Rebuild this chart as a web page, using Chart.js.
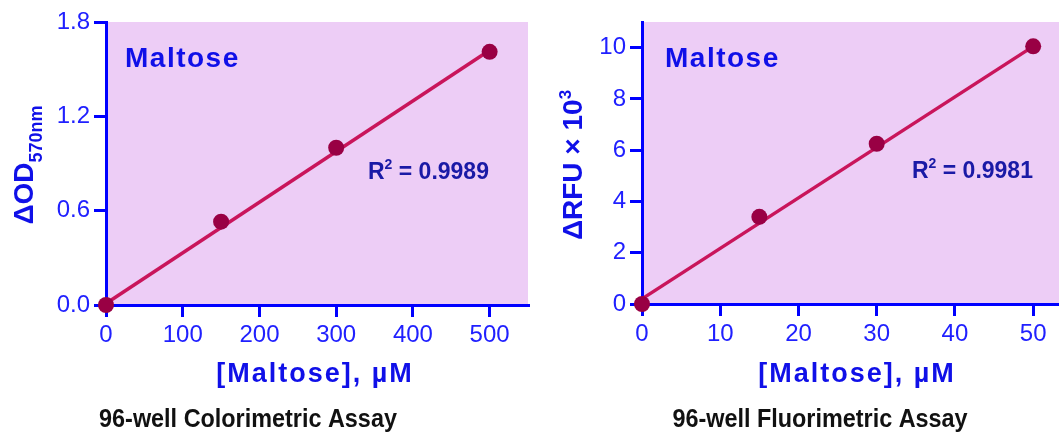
<!DOCTYPE html>
<html>
<head>
<meta charset="utf-8">
<script src="https://cdn.jsdelivr.net/npm/chart.js@4"></script>
<style>
  html, body { margin: 0; padding: 0; background: #fff; }
  #wrap { position: relative; width: 1059px; height: 432px; overflow: hidden; }
  canvas { position: absolute; top: 0; }
  #left { left: 0; }
  #right { left: 530px; }
</style>
</head>
<body>
<div id="wrap">
  <canvas id="left" width="530" height="432"></canvas>
  <canvas id="right" width="529" height="432"></canvas>
</div>
<script>
// ─── data ────────────────────────────────────────
const maltoseColor = [0, 150, 300, 500];          // µM, colorimetric
const odValues = [0.0, 0.53, 1.0, 1.61];
const maltoseColorFit = [0, 500];
const odFit = [0.01, 1.62];
const xTicksColor = [0, 100, 200, 300, 400, 500];
const yTicksColor = [0, 0.6, 1.2, 1.8];

const maltoseFluor = [0, 15, 30, 50];             // µM, fluorimetric
const rfuValues = [0.0, 3.4, 6.25, 10.05];
const maltoseFluorFit = [0, 50];
const rfuFit = [0.2, 10.05];
const xTicksFluor = [0, 10, 20, 30, 40, 50];
const yTicksFluor = [0, 2, 4, 6, 8, 10];

// ─── styling ─────────────────────────────────────
const axisBlue = "#0000ff";
const tickBlue = "#2020ff";
const labelBlue = "#1010e8";
const rBlue = "#1a1aa6";
const plotBg = "#edcdf6";
const lineColor = "#c9155b";
const pointColor = "#990044";
const sans = "'Liberation Sans', Arial, sans-serif";

const textsByCanvas = {};

function toXY(xs, ys) {
  return xs.map((x, i) => ({ x: x, y: ys[i] }));
}

// draws a run of text pieces (for sub/superscripts) around a point
function drawRuns(ctx, runs, x, y, opts) {
  ctx.save();
  ctx.translate(x, y);
  if (opts.rotate) ctx.rotate(opts.rotate);
  ctx.scale(opts.scaleX || 1, 1);
  ctx.fillStyle = opts.color;
  ctx.textAlign = "left";
  ctx.textBaseline = "alphabetic";
  ctx.letterSpacing = (opts.spacing || 0) + "px";
  let total = 0;
  runs.forEach((r) => { ctx.font = r.font; total += ctx.measureText(r.text).width; });
  let cx = opts.align === "center" ? -total / 2 : 0;
  runs.forEach((r) => {
    ctx.font = r.font;
    ctx.fillText(r.text, cx, r.dy || 0);
    cx += ctx.measureText(r.text).width;
  });
  ctx.restore();
}

const plotBackground = {
  id: "plotBackground",
  beforeDraw(chart) {
    const { ctx, chartArea: a } = chart;
    ctx.save();
    ctx.fillStyle = plotBg;
    ctx.fillRect(a.left, a.top, a.right - a.left, a.bottom - a.top);
    ctx.restore();
  }
};

const annotations = {
  id: "annotations",
  afterDraw(chart) {
    const ctx = chart.ctx;
    const t = textsByCanvas[chart.canvas.id];
    if (!t) return;
    drawRuns(ctx, [{ text: "Maltose", font: "bold 28px " + sans }],
      t.name[0], t.name[1], { color: labelBlue, spacing: 1.5 });
    drawRuns(ctx, [
      { text: "R", font: "bold 23px " + sans },
      { text: "2", font: "bold 14px " + sans, dy: -10 },
      { text: " = " + t.r2, font: "bold 23px " + sans }
    ], t.r[0], t.r[1], { color: rBlue });
    drawRuns(ctx, t.yTitle, t.yPos[0], t.yPos[1],
      { color: labelBlue, rotate: -Math.PI / 2, align: "center" });
    drawRuns(ctx, [{ text: "[Maltose], µM", font: "bold 27px " + sans }],
      t.xPos[0], t.xPos[1], { color: labelBlue, align: "center", spacing: 2 });
    drawRuns(ctx, [{ text: t.caption, font: "bold 26px " + sans }],
      t.cap[0], t.cap[1], { color: "#111", align: "center", scaleX: 0.9 });
  }
};

function axis(min, max, tickVals, fitFn, fmt) {
  return {
    type: "linear",
    min: min,
    max: max,
    z: 1,
    border: { display: true, color: axisBlue, width: 3 },
    grid: {
      drawOnChartArea: false,
      drawTicks: true,
      tickLength: 12,
      tickWidth: 3,
      tickColor: axisBlue,
      color: axisBlue,
      lineWidth: 3
    },
    ticks: {
      color: tickBlue,
      font: { family: sans, size: 24 },
      padding: 4,
      callback: (v) => fmt(Number(v))
    },
    afterBuildTicks: (scale) => { scale.ticks = tickVals.map((v) => ({ value: v })); },
    afterFit: (s) => {
      // keep the plot box where the reference has it
      s.paddingLeft = s.paddingRight = s.paddingTop = s.paddingBottom = 0;
      fitFn(s);
    }
  };
}

function makeChart(el, pts, fit, xScale, yScale, padding, texts) {
  textsByCanvas[el.id] = texts;
  return new Chart(el, {
    type: "scatter",
    data: {
      datasets: [
        {
          data: pts,
          pointRadius: 8,
          pointHoverRadius: 8,
          pointBackgroundColor: pointColor,
          pointBorderWidth: 0,
          showLine: false,
          clip: false
        },
        {
          data: fit,
          showLine: true,
          borderColor: lineColor,
          borderWidth: 3.5,
          pointRadius: 0,
          clip: false
        }
      ]
    },
    plugins: [plotBackground, annotations],
    options: {
      responsive: false,
      animation: false,
      devicePixelRatio: 1,
      layout: { padding: padding, autoPadding: false },
      plugins: { legend: { display: false }, tooltip: { enabled: false } },
      scales: { x: xScale, y: yScale }
    }
  });
}

makeChart(
  document.getElementById("left"),
  toXY(maltoseColor, odValues),
  toXY(maltoseColorFit, odFit),
  axis(0, 550, xTicksColor, (s) => { s.height = 127; }, (v) => String(v)),
  axis(0, 1.8, yTicksColor, (s) => { s.width = 106; }, (v) => v.toFixed(1)),
  { top: 22, right: 2, left: 0, bottom: 0 },
  {
    name: [125, 67],
    r2: "0.9989",
    r: [368, 179],
    yTitle: [
      { text: "ΔOD", font: "bold 28px " + sans },
      { text: "570nm", font: "bold 18px " + sans, dy: 9 }
    ],
    yPos: [33, 165],
    xPos: [315, 382],
    caption: "96-well Colorimetric Assay",
    cap: [248, 427]
  }
);

makeChart(
  document.getElementById("right"),
  toXY(maltoseFluor, rfuValues),
  toXY(maltoseFluorFit, rfuFit),
  axis(0, 53.3, xTicksFluor, (s) => { s.height = 128; }, (v) => String(v)),
  axis(0, 11, yTicksFluor, (s) => { s.width = 112; }, (v) => String(v)),
  { top: 22, right: 0, left: 0, bottom: 0 },
  {
    name: [135, 67],
    r2: "0.9981",
    r: [382, 178],
    yTitle: [
      { text: "ΔRFU × 10", font: "bold 28px " + sans },
      { text: "3", font: "bold 17px " + sans, dy: -11 }
    ],
    yPos: [52, 165],
    xPos: [327, 382],
    caption: "96-well Fluorimetric Assay",
    cap: [290, 427]
  }
);
</script>
</body>
</html>
